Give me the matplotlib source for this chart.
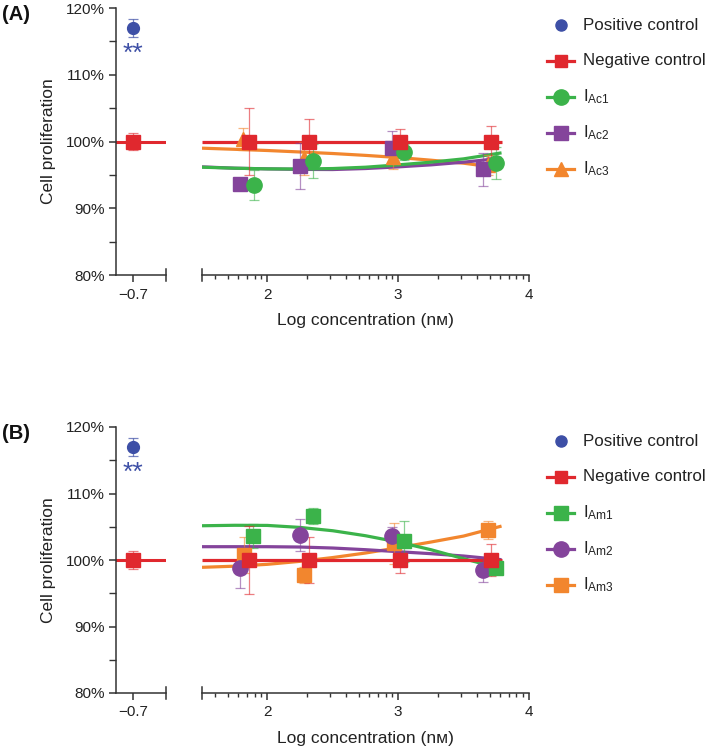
import numpy as np
import matplotlib
matplotlib.use("Agg")
import matplotlib.pyplot as plt
from matplotlib.lines import Line2D

plt.rcParams['font.family'] = ['Liberation Sans', 'DejaVu Sans']
plt.rcParams['mathtext.fontset'] = 'custom'
plt.rcParams['mathtext.rm'] = 'Liberation Sans'
plt.rcParams['mathtext.it'] = 'Liberation Sans:italic'

BLUE = "#3d4fa6"
RED = "#e0282e"
GREEN = "#3bb34a"
PURPLE = "#84449b"
ORANGE = "#f2862e"
AXC = "#333333"

# controls (shared by both panels)
pos_x = -0.7
pos_y = 117.0
pos_err = 1.4
neg_left_y = 100.0
neg_left_err = 1.3
neg_x = [1.863, 2.32, 3.015, 3.71]
neg_y = [100, 100, 100, 100]
neg_err_A = [5.0, 3.4, 1.9, 2.25]
neg_err_B = [5.1, 3.5, 2.0, 2.35]

# panel A compounds
ac1_x = [1.895, 2.35, 3.045, 3.745]
ac1_y = [93.5, 97.1, 98.5, 96.75]
ac1_err = [2.25, 2.6, 1.2, 2.4]
ac2_x = [1.794, 2.25, 2.95, 3.65]
ac2_y = [93.6, 96.35, 99.1, 95.85]
ac2_err = [0.4, 3.4, 2.4, 2.5]
ac3_x = [1.81, 2.28, 2.96, 3.69]
ac3_y = [100.35, 97.5, 97.75, 96.5]
ac3_err = [1.6, 2.5, 1.9, 1.5]

# panel B compounds
am1_x = [1.89, 2.35, 3.045, 3.745]
am1_y = [103.6, 106.65, 102.8, 98.75]
am1_err = [1.8, 1.2, 3.1, 0.8]
am2_x = [1.794, 2.25, 2.95, 3.65]
am2_y = [98.85, 103.75, 103.65, 98.5]
am2_err = [3.1, 2.45, 1.35, 1.75]
am3_x = [1.82, 2.28, 2.965, 3.69]
am3_y = [100.75, 97.75, 102.5, 104.5]
am3_err = [2.75, 1.25, 3.1, 1.4]

# fitted curves
fit_x = [1.5, 1.75, 2.0, 2.25, 2.5, 2.75, 3.0, 3.25, 3.5, 3.79]
ac1_fit = [96.15, 96.0, 95.9, 95.88, 95.95, 96.15, 96.5, 96.9, 97.4, 98.3]
ac2_fit = [96.2, 96.0, 95.9, 95.82, 95.8, 95.95, 96.2, 96.5, 96.9, 97.5]
ac3_fit = [99.0, 98.83, 98.65, 98.43, 98.2, 97.92, 97.6, 97.2, 96.75, 96.0]
am1_fit = [105.15, 105.22, 105.2, 104.9, 104.4, 103.65, 102.7, 101.55, 100.2, 98.7]
am2_fit = [102.0, 102.0, 102.0, 101.95, 101.8, 101.55, 101.25, 100.95, 100.6, 100.05]
am3_fit = [98.9, 99.07, 99.35, 99.8, 100.37, 101.05, 101.85, 102.7, 103.6, 105.1]
neg_fit = [100] * len(fit_x)

W, H = 709, 751
fig = plt.figure(figsize=(W / 100, H / 100), dpi=100)


def box(x0, x1, ytop, ybot):
    return [x0 / W, 1 - ybot / H, (x1 - x0) / W, (ybot - ytop) / H]


def end_tick(ax, x):
    ax.plot([x, x], [-0.022, 0.022], color=AXC, lw=1.1,
            transform=ax.get_xaxis_transform(), clip_on=False)


def draw_series(ax, xs, ys, errs, color, marker, ms):
    ax.errorbar(xs, ys, yerr=errs, fmt='none', ecolor=color, elinewidth=0.9,
                capsize=3.8, capthick=0.9, alpha=0.6, zorder=3)
    ax.plot(xs, ys, linestyle='none', marker=marker, ms=ms, color=color,
            mec=color, zorder=4)


def panel(ytop, ybot, label, neg_err, series, fits):
    axl = fig.add_axes(box(116, 166, ytop, ybot))
    axr = fig.add_axes(box(202, 529, ytop, ybot))

    for ax in (axl, axr):
        ax.set_ylim(80, 120)
        for s in ('top', 'right'):
            ax.spines[s].set_visible(False)
        ax.spines['bottom'].set_color(AXC)
        ax.spines['bottom'].set_linewidth(1.1)
        ax.patch.set_alpha(0)
        ax.tick_params(axis='x', colors=AXC, labelcolor='#222222', labelsize=11,
                       width=1.1, length=5, direction='out', pad=4)
        ax.tick_params(axis='x', which='minor', colors=AXC, width=1.0, length=3.2)

    # left segment with y axis
    axl.set_xlim(-0.7 - 17 / 131, -0.7 + 33 / 131)
    axl.spines['left'].set_color(AXC)
    axl.spines['left'].set_linewidth(1.1)
    axl.set_xticks([pos_x])
    axl.set_xticklabels(['\u22120.7'])
    axl.set_yticks([80, 90, 100, 110, 120])
    axl.set_yticklabels(['80%', '90%', '100%', '110%', '120%'])
    axl.set_yticks([85, 95, 105, 115], minor=True)
    axl.tick_params(axis='y', colors=AXC, labelcolor='#222222', labelsize=11,
                    width=1.1, length=5, pad=3)
    axl.tick_params(axis='y', which='minor', colors=AXC, width=1.0, length=5)
    axl.set_ylabel('Cell proliferation', fontsize=12.5, color='#222222', labelpad=7)
    end_tick(axl, axl.get_xlim()[1])

    axl.axhline(neg_left_y, color=RED, lw=2.2, zorder=2)
    axl.errorbar([pos_x], [pos_y], yerr=[pos_err], fmt='none', ecolor=BLUE,
                 elinewidth=0.9, capsize=3.8, capthick=0.9, alpha=0.7)
    axl.plot([pos_x], [pos_y], 'o', ms=8.5, color=BLUE)
    axl.text(pos_x, 112.1, '**', color=BLUE, fontsize=19, ha='center',
             va='baseline')
    axl.errorbar([pos_x], [neg_left_y], yerr=[neg_left_err], fmt='none', ecolor=RED,
                 elinewidth=0.9, capsize=3.8, capthick=0.9, alpha=0.6)
    axl.plot([pos_x], [neg_left_y], 's', ms=9.5, color=RED, zorder=4)

    # right segment
    axr.set_xlim(1.5, 4.0)
    axr.spines['left'].set_visible(False)
    axr.set_yticks([])
    axr.set_xticks([2, 3, 4])
    axr.set_xticklabels(['2', '3', '4'])
    minors = [d + np.log10(k) for d in (1, 2, 3) for k in range(2, 10)]
    axr.set_xticks([m for m in minors if 1.5 < m < 4.0], minor=True)
    end_tick(axr, 1.5)
    axr.set_xlabel('Log concentration (n\u1d0d)', fontsize=12.5, color='#222222',
                   labelpad=8)

    for fy, color in fits:
        axr.plot(fit_x, fy, color=color, lw=2.3, zorder=2, solid_capstyle='butt')
    axr.plot(fit_x, neg_fit, color=RED, lw=2.3, zorder=2, solid_capstyle='butt')

    for xs, ys, errs, color, marker, ms in series:
        draw_series(axr, xs, ys, errs, color, marker, ms)
    draw_series(axr, neg_x, neg_y, neg_err, RED, 's', 9.5)

    fig.text(2 / W, 1 - (ytop + 7) / H, label, fontsize=14.5, fontweight='bold',
             va='center', ha='left', color='#111111')


def legend(y0, entries):
    for i, (text, color, marker, ms, line) in enumerate(entries):
        yc = 1 - (y0 + 36 * i) / H
        if line:
            fig.add_artist(Line2D([547 / W, 574 / W], [yc, yc], color=color, lw=2.3,
                                  transform=fig.transFigure))
        fig.add_artist(Line2D([560.5 / W], [yc], marker=marker, ms=ms, color=color,
                              linestyle='none', transform=fig.transFigure))
        fig.text(583 / W, yc, text, fontsize=12.2, va='center', ha='left',
                 color='#222222')


panel(8, 275, '(A)', neg_err_A,
      [(ac3_x, ac3_y, ac3_err, ORANGE, '^', 10.5),
       (ac2_x, ac2_y, ac2_err, PURPLE, 's', 10.5),
       (ac1_x, ac1_y, ac1_err, GREEN, 'o', 11)],
      [(ac3_fit, ORANGE), (ac2_fit, PURPLE), (ac1_fit, GREEN)])

panel(427, 693, '(B)', neg_err_B,
      [(am3_x, am3_y, am3_err, ORANGE, 's', 10.5),
       (am2_x, am2_y, am2_err, PURPLE, 'o', 11),
       (am1_x, am1_y, am1_err, GREEN, 's', 10.5)],
      [(am3_fit, ORANGE), (am2_fit, PURPLE), (am1_fit, GREEN)])

legend(25, [('Positive control', BLUE, 'o', 8, False),
            ('Negative control', RED, 's', 9, True),
            (r'I$_{\mathrm{Ac1}}$', GREEN, 'o', 11, True),
            (r'I$_{\mathrm{Ac2}}$', PURPLE, 's', 10.5, True),
            (r'I$_{\mathrm{Ac3}}$', ORANGE, '^', 10.5, True)])

legend(441, [('Positive control', BLUE, 'o', 8, False),
             ('Negative control', RED, 's', 9, True),
             (r'I$_{\mathrm{Am1}}$', GREEN, 's', 10.5, True),
             (r'I$_{\mathrm{Am2}}$', PURPLE, 'o', 11, True),
             (r'I$_{\mathrm{Am3}}$', ORANGE, 's', 10.5, True)])

fig.savefig('out.png', dpi=100)
